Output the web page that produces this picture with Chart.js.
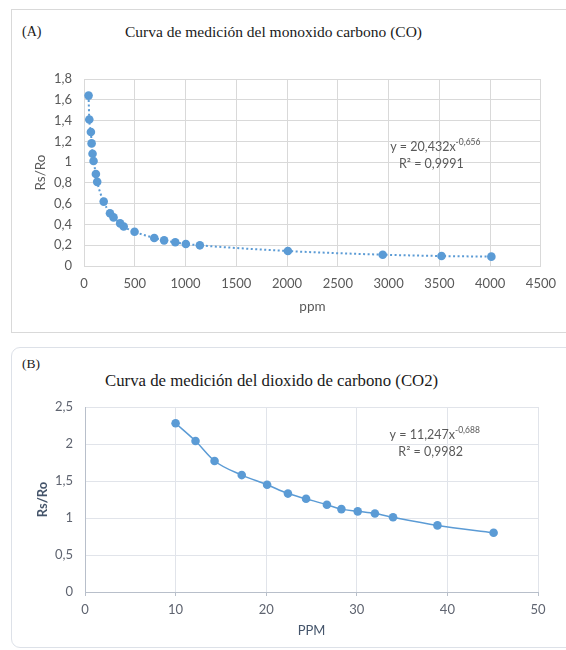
<!DOCTYPE html>
<html>
<head>
<meta charset="utf-8">
<script src="https://cdn.jsdelivr.net/npm/chart.js@4/dist/chart.umd.min.js"></script>
<style>
  html, body { margin: 0; padding: 0; background: #fff; }
  body { width: 566px; height: 650px; position: relative; overflow: hidden; }
  .card { position: absolute; left: 11px; width: 600px; box-sizing: border-box; }
  #cardA { top: 9px; height: 324px; border: 1px solid #d9d9d9; }
  #cardB { top: 347px; height: 301px; border: 1px solid #dde1e8; border-radius: 9px; }
  .serif { position: absolute; font-family: "Liberation Serif", "Times New Roman", serif; color: #1a1a1a; white-space: nowrap; line-height: 1; }
  canvas { position: absolute; left: 0; }
</style>
</head>
<body>
<div class="card" id="cardA"></div>
<div class="card" id="cardB"></div>

<div class="serif" style="left:22px; top:25px; font-size:14px;">(A)</div>
<div class="serif" id="titleA" style="left:125px; top:24px; font-size:15.5px;">Curva de medición del monoxido carbono (CO)</div>
<div class="serif" style="left:22px; top:357px; font-size:13.5px;">(B)</div>
<div class="serif" id="titleB" style="left:105px; top:373px; font-size:16.8px;">Curva de medición del dioxido de carbono (CO2)</div>

<div style="position:absolute; left:0; top:0; width:566px; height:340px;"><canvas id="chartA"></canvas></div>
<div style="position:absolute; left:0; top:340px; width:566px; height:310px;"><canvas id="chartB"></canvas></div>

<script>
/* ================================
   DATA
================================ */
const coPpm   = [45, 52, 68, 75, 84, 94, 117, 130, 194, 256, 291, 356, 391, 498, 692, 789, 899, 1003, 1141, 2008, 2942, 3521, 4012];
const coRsRo  = [1.64, 1.41, 1.29, 1.18, 1.08, 1.01, 0.885, 0.81, 0.62, 0.507, 0.468, 0.41, 0.38, 0.33, 0.27, 0.247, 0.228, 0.212, 0.199, 0.144, 0.109, 0.096, 0.09];

const co2Ppm  = [10.0, 12.2, 14.3, 17.3, 20.1, 22.4, 24.4, 26.7, 28.3, 30.1, 32.0, 34.0, 38.9, 45.1];
const co2RsRo = [2.28, 2.04, 1.77, 1.58, 1.45, 1.33, 1.26, 1.18, 1.12, 1.09, 1.06, 1.01, 0.90, 0.80];

const coXTicks  = [0, 500, 1000, 1500, 2000, 2500, 3000, 3500, 4000, 4500];
const coYTicks  = [0, 0.2, 0.4, 0.6, 0.8, 1, 1.2, 1.4, 1.6, 1.8];
const co2XTicks = [0, 10, 20, 30, 40, 50];
const co2YTicks = [0, 0.5, 1, 1.5, 2, 2.5];

const coEquation  = { base: "y = 20,432x", exp: "-0,656", r2: "R² = 0,9991", at: [3460, 1.145] };
const co2Equation = { base: "y = 11,247x", exp: "-0,688", r2: "R² = 0,9982", at: [38.6, 2.12] };

const BLUE = "#5b9bd5";
const TICK_FONT = "Lato, 'Open Sans', sans-serif";

const comma = (v) => String(+v.toFixed(2)).replace(".", ",");
const pairs = (xs, ys) => xs.map((x, i) => ({ x, y: ys[i] }));
const fixedTicks = (list) => (scale) => { scale.ticks = list.map(v => ({ value: v })); };

/* equation label drawn at a data position */
function equationPlugin(eq, color) {
  return {
    id: "equation",
    afterDraw(chart) {
      const c = chart.ctx;
      const cx = chart.scales.x.getPixelForValue(eq.at[0]);
      const cy = chart.scales.y.getPixelForValue(eq.at[1]);
      c.save();
      c.fillStyle = color;
      c.textBaseline = "middle";
      c.font = "12.5px " + TICK_FONT;
      const wBase = c.measureText(eq.base).width;
      c.font = "8.5px " + TICK_FONT;
      const wExp = c.measureText(eq.exp).width;
      let x0 = cx - (wBase + wExp) / 2;
      c.font = "12.5px " + TICK_FONT;
      c.textAlign = "left";
      c.fillText(eq.base, x0, cy);
      c.font = "8.5px " + TICK_FONT;
      c.fillText(eq.exp, x0 + wBase, cy - 5);
      c.font = "12.5px " + TICK_FONT;
      c.textAlign = "center";
      c.fillText(eq.r2, cx - 4, cy + 17);
      c.restore();
    }
  };
}

/* ================================
   CHART A  (CO)
================================ */
new Chart(document.getElementById("chartA"), {
  type: "scatter",
  data: {
    datasets: [{
      data: pairs(coPpm, coRsRo),
      showLine: true,
      borderColor: BLUE,
      borderWidth: 2,
      borderDash: [2, 2.5],
      cubicInterpolationMode: "monotone",
      pointRadius: 4.3,
      pointBackgroundColor: BLUE,
      pointBorderWidth: 0
    }]
  },
  options: {
    responsive: true,
    maintainAspectRatio: false,
    animation: false,
    layout: { padding: { top: 79, right: 18, bottom: 25, left: 0 } },
    plugins: { legend: { display: false }, tooltip: { enabled: false } },
    scales: {
      x: {
        type: "linear", min: 0, max: 4500,
        afterBuildTicks: fixedTicks(coXTicks),
        afterFit: (s) => { s.height = 49; },
        grid: { color: "#d9d9d9", drawTicks: false },
        border: { color: "#d9d9d9" },
        ticks: { color: "#595959", padding: 10, font: { family: TICK_FONT, size: 13 }, callback: comma, maxRotation: 0 },
        title: { display: true, text: "ppm", color: "#595959", padding: 0, font: { family: TICK_FONT, size: 13.5 } }
      },
      y: {
        min: 0, max: 1.8,
        afterBuildTicks: fixedTicks(coYTicks),
        afterFit: (s) => { s.width = 84; },
        grid: { color: "#d9d9d9", drawTicks: false },
        border: { color: "#d9d9d9" },
        ticks: { color: "#595959", padding: 12, font: { family: TICK_FONT, size: 13 }, callback: comma },
        title: { display: true, text: "Rs/Ro", color: "#595959", padding: { top: 33, bottom: 0 }, font: { family: TICK_FONT, size: 13.5 } }
      }
    }
  },
  plugins: [equationPlugin(coEquation, "#595959")]
});

/* ================================
   CHART B  (CO2)
================================ */
new Chart(document.getElementById("chartB"), {
  type: "scatter",
  data: {
    datasets: [{
      data: pairs(co2Ppm, co2RsRo),
      showLine: true,
      borderColor: BLUE,
      borderWidth: 1.5,
      cubicInterpolationMode: "monotone",
      pointRadius: 4.3,
      pointBackgroundColor: BLUE,
      pointBorderWidth: 0
    }]
  },
  options: {
    responsive: true,
    maintainAspectRatio: false,
    animation: false,
    layout: { padding: { top: 67, right: 28, bottom: 11, left: 0 } },
    plugins: { legend: { display: false }, tooltip: { enabled: false } },
    scales: {
      x: {
        type: "linear", min: 0, max: 50,
        afterBuildTicks: fixedTicks(co2XTicks),
        afterFit: (s) => { s.height = 47; },
        grid: { color: "#e1e4ea", tickLength: 4, tickColor: "#b8bfca" },
        border: { color: "#b8bfca" },
        ticks: { color: "#5f6470", padding: 6, font: { family: TICK_FONT, size: 13 }, callback: comma, maxRotation: 0 },
        title: { display: true, text: "PPM", color: "#44546a", padding: 0, font: { family: TICK_FONT, size: 13 } }
      },
      y: {
        min: 0, max: 2.5,
        afterBuildTicks: fixedTicks(co2YTicks),
        afterFit: (s) => { s.width = 85; },
        grid: { color: "#e1e4ea", drawTicks: false },
        border: { color: "#b8bfca" },
        ticks: { color: "#5f6470", padding: 12, font: { family: TICK_FONT, size: 13 }, callback: comma },
        title: { display: true, text: "Rs/Ro", color: "#44546a", padding: { top: 35, bottom: 0 }, font: { family: TICK_FONT, size: 13, weight: "bold" } }
      }
    }
  },
  plugins: [equationPlugin(co2Equation, "#595959")]
});
</script>
</body>
</html>
